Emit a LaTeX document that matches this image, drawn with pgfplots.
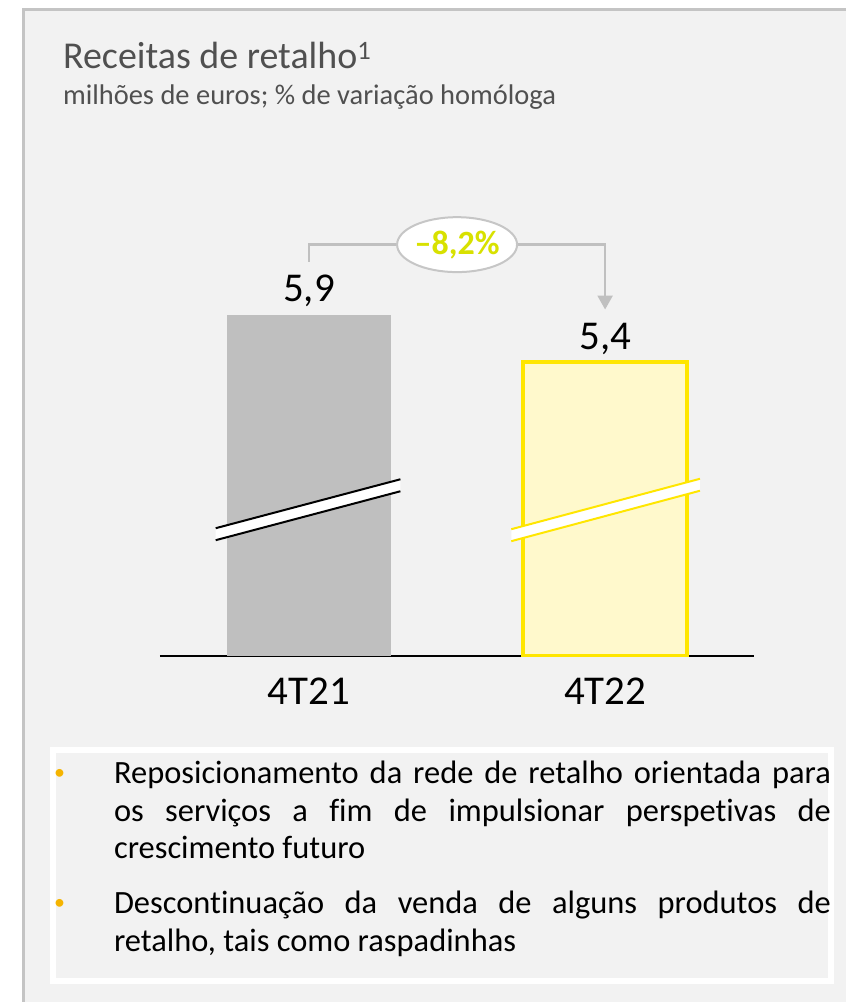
\documentclass[border=0pt]{standalone}
\usepackage{fontspec}
\setmainfont{Carlito}[Ligatures=NoCommon]
\usepackage{pgfplots}
\pgfplotsset{compat=1.18}
\usetikzlibrary{arrows.meta,shapes.geometric}
\definecolor{panel}{HTML}{F2F2F2}
\definecolor{panelborder}{HTML}{C4C4C4}
\definecolor{bargray}{HTML}{BFBFBF}
\definecolor{baryel}{HTML}{FFF9CC}
\definecolor{yelline}{HTML}{FFE600}
\definecolor{pctcol}{HTML}{D8E100}
\definecolor{annot}{HTML}{C0C0C0}
\definecolor{bulletcol}{HTML}{F5B400}
\definecolor{titlecol}{HTML}{505050}
\begin{document}
\begin{tikzpicture}[x=1bp,y=1bp]
\fill[white] (0,0) rectangle (847,1003);
\fill[panel] (22,0) rectangle (847,995);
\draw[panelborder, line width=3bp] (23.5,0) -- (23.5,993.5) -- (847,993.5);
\fill[white] (50,18) rectangle (835,255);
\fill[panel] (56,24) rectangle (829,249);
\node[anchor=base west, inner sep=0, text=titlecol, font=\fontsize{38bp}{44bp}\selectfont] at (63,934) {Receitas de retalho\textsuperscript{1}};
\node[anchor=base west, inner sep=0, text=titlecol, font=\fontsize{28.5bp}{32bp}\selectfont] at (63,898) {milhões de euros; \% de variação homóloga};
\begin{axis}[
  at={(160bp,346bp)}, anchor=south west,
  scale only axis, width=595bp, height=450bp,
  xmin=-0.5042, xmax=1.5025, ymin=2.3375, ymax=7.025,
  axis x line*=bottom, axis y line=none,
  x axis line style={black, line width=2bp, -},
  xtick={0,1}, xticklabels={4T21,4T22}, major tick length=0,
  xticklabel style={anchor=base, yshift=-49bp, font=\fontsize{41bp}{48bp}\selectfont, text=black},
  ytick=\empty,
  ybar, bar width=0.555, bar shift=0,
  nodes near coords, point meta=explicit symbolic,
  every node near coord/.append style={anchor=base, yshift=13bp, inner sep=0, font=\fontsize{41bp}{48bp}\selectfont, text=black},
]
\addplot[fill=bargray, draw=none] coordinates {(0,5.9) [5,9]};
\addplot[fill=baryel, draw=yelline, line width=4bp] coordinates {(1,5.4) [5,4]};
% axis break marks
\fill[white] (-0.3153,3.5458) -- (0.3086,4.0563) -- (0.3086,4.1813) -- (-0.3153,3.6708) -- cycle;
\draw[black, line width=2bp] (-0.3153,3.5458) -- (0.3086,4.0563);
\draw[black, line width=2bp] (-0.3153,3.6708) -- (0.3086,4.1813);
\fill[white] (0.683,3.5354) -- (1.3204,4.0615) -- (1.3204,4.1865) -- (0.683,3.6604) -- cycle;
\draw[yelline, line width=2bp] (0.683,3.5354) -- (1.3204,4.0615);
\draw[yelline, line width=2bp] (0.683,3.6604) -- (1.3204,4.1865);
% change annotation
\draw[annot, line width=2.5bp, -{Triangle[width=15bp,length=14bp]}] (0,6.452) |- (1.0,6.629) -- (1.0,5.952);
\node[ellipse, draw=annot!90, fill=white, minimum width=104bp, minimum height=55bp, line width=2bp, inner sep=0, text=pctcol, font=\bfseries\fontsize{34bp}{38bp}\selectfont] at (0.5,6.629) {–8,2\%};
\end{axis}
\node[anchor=base west, inner sep=0, text=bulletcol, font=\fontsize{22bp}{26bp}\selectfont] at (54,222) {•};
\node[anchor=base west, inner sep=0, text=bulletcol, font=\fontsize{22bp}{26bp}\selectfont] at (54,92) {•};
\node[anchor=base west, inner sep=0] at (114,218) {\parbox[t]{718bp}{\fontsize{32.5bp}{37.5bp}\selectfont Reposicionamento da rede de retalho orientada para\linebreak os serviços a fim de impulsionar perspetivas de\linebreak crescimento futuro}};
\node[anchor=base west, inner sep=0] at (114,88) {\parbox[t]{718bp}{\fontsize{32.5bp}{37.5bp}\selectfont Descontinuação da venda de alguns produtos de\linebreak retalho, tais como raspadinhas}};
\end{tikzpicture}
\end{document}
